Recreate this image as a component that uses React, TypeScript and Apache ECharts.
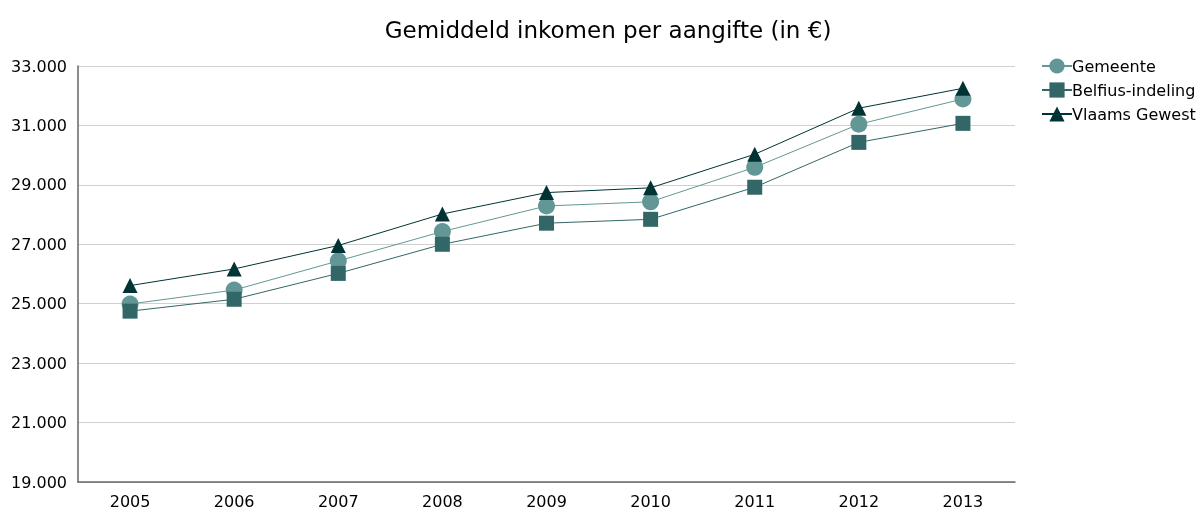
import React, { useEffect, useRef } from "react";
import * as echarts from "echarts";

const years = ["2005", "2006", "2007", "2008", "2009", "2010", "2011", "2012", "2013"];
const gemeente = [24990, 25460, 26440, 27430, 28290, 28430, 29590, 31040, 31890];
const belfius = [24750, 25150, 26020, 27000, 27710, 27840, 28920, 30430, 31070];
const vlaams = [25610, 26170, 26960, 28020, 28740, 28900, 30030, 31580, 32250];

const FONT = "DejaVu Sans";

const fmt = (v: number) => String(v).replace(/\B(?=(\d{3})+(?!\d))/g, ".");

export default function App() {
  const ref = useRef<HTMLDivElement>(null);

  useEffect(() => {
    if (!ref.current) return;
    document.body.style.margin = "0";
    document.body.style.overflow = "hidden";
    const chart = echarts.init(ref.current, undefined, { renderer: "svg" });
    const line = (name: string, data: number[], color: string, symbol: string, size: number) => ({
      name,
      type: "line",
      data,
      symbol,
      symbolSize: size,
      itemStyle: { color },
      lineStyle: { color, width: 1 },
      emphasis: { disabled: true },
    });
    chart.setOption({
      animation: false,
      textStyle: { fontFamily: FONT },
      title: {
        text: "Gemiddeld inkomen per aangifte (in €)",
        left: 603,
        textAlign: "center",
        top: 13,
        textStyle: { fontFamily: FONT, fontSize: 23, fontWeight: "normal", color: "#000" },
      },
      legend: {
        orient: "vertical",
        left: 1036,
        top: 53,
        itemGap: 8,
        itemWidth: 30,
        itemHeight: 19,
        textStyle: { fontFamily: FONT, fontSize: 16, color: "#000", padding: [0, 0, 0, -5] },
        data: ["Gemeente", "Belfius-indeling", "Vlaams Gewest"],
      },
      grid: { left: 78, right: 187, top: 66, bottom: 28 },
      xAxis: {
        type: "category",
        data: years,
        boundaryGap: true,
        axisLine: { lineStyle: { color: "#666", width: 1.5 } },
        axisTick: { show: false },
        axisLabel: { color: "#000", fontSize: 16, fontFamily: FONT, margin: 11 },
      },
      yAxis: {
        type: "value",
        min: 19000,
        max: 33000,
        interval: 2000,
        axisLine: { show: true, lineStyle: { color: "#666", width: 1.5 } },
        axisTick: { show: false },
        splitLine: { lineStyle: { color: "#d0d0d0", width: 1 } },
        axisLabel: { color: "#000", fontSize: 16, fontFamily: FONT, margin: 11, formatter: fmt },
      },
      series: [
        line("Gemeente", gemeente, "#639795", "circle", 17),
        line("Belfius-indeling", belfius, "#336666", "rect", 15),
        line("Vlaams Gewest", vlaams, "#003333", "triangle", 15),
      ],
    });
    return () => chart.dispose();
  }, []);

  return <div ref={ref} style={{ position: "fixed", left: 0, top: 0, width: 1202, height: 510 }} />;
}
